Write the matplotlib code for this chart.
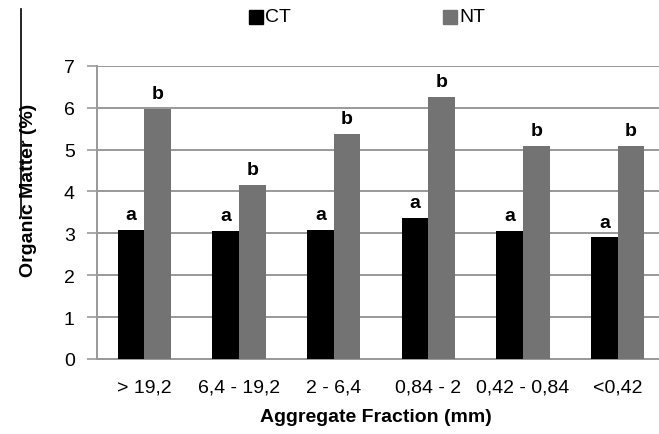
import matplotlib
matplotlib.use("Agg")
import matplotlib.pyplot as plt
from matplotlib.lines import Line2D
from matplotlib.patches import Rectangle
import numpy as np

categories = ["> 19,2", "6,4 - 19,2", "2 - 6,4", "0,84 - 2", "0,42 - 0,84", "<0,42"]
ct_values = [3.09, 3.05, 3.08, 3.37, 3.05, 2.90]
nt_values = [5.97, 4.16, 5.37, 6.26, 5.09, 5.09]
ct_letters = ["a", "a", "a", "a", "a", "a"]
nt_letters = ["b", "b", "b", "b", "b", "b"]
y_ticks = [0, 1, 2, 3, 4, 5, 6, 7]

plt.rcParams['font.family'] = ['Liberation Sans Narrow', 'Liberation Sans', 'DejaVu Sans']

fig = plt.figure(figsize=(6.59, 4.35), dpi=100)
ax = fig.add_axes([97/659, 1-360/435, 568/659, (360-66.7)/435])

x = np.arange(len(categories))
w = 0.28
ct_color = "#000000"
nt_color = "#737373"
ax.bar(x - w/2, ct_values, w, color=ct_color, zorder=3)
ax.bar(x + w/2, nt_values, w, color=nt_color, zorder=3)

for xi, v, t in zip(x - w/2, ct_values, ct_letters):
    ax.annotate(t, (xi, v), xytext=(0, 5), textcoords="offset points",
                ha="center", va="bottom", fontsize=14, fontweight="bold")
for xi, v, t in zip(x + w/2, nt_values, nt_letters):
    ax.annotate(t, (xi, v), xytext=(0, 5), textcoords="offset points",
                ha="center", va="bottom", fontsize=14, fontweight="bold")

ax.set_xlim(-0.5, len(categories) - 0.5)
ax.set_ylim(0, 7)
ax.set_yticks(y_ticks)
ax.set_yticklabels([str(t) for t in y_ticks], fontsize=14)
ax.set_xticks(x)
ax.set_xticklabels(categories, fontsize=14)
ax.tick_params(axis="y", length=7, width=1.2, color="#999999", pad=9)
ax.tick_params(axis="x", length=0, pad=14)
ax.grid(axis="y", color="#999999", linewidth=1.4, zorder=0)
for s in ["top", "right"]:
    ax.spines[s].set_visible(False)
for s in ["left", "bottom"]:
    ax.spines[s].set_color("#999999")
    ax.spines[s].set_linewidth(1.4)

fig.text(376/659, 1-418/435, "Aggregate Fraction (mm)", ha="center", va="center",
         fontsize=14, fontweight="bold")
fig.text(29/659, 1-190/435, "Organic Matter (%)", ha="center", va="center",
         rotation=90, fontsize=14, fontweight="bold")

# legend
fig.add_artist(Rectangle((249/659, 1-25/435), 14/659, 14/435, color=ct_color, transform=fig.transFigure))
fig.text(265/659, 1-18/435, "CT", ha="left", va="center", fontsize=14)
fig.add_artist(Rectangle((443/659, 1-25/435), 14/659, 14/435, color=nt_color, transform=fig.transFigure))
fig.text(459/659, 1-18/435, "NT", ha="left", va="center", fontsize=14)

# stray vertical line at left
fig.add_artist(Line2D([20.5/659, 20.5/659], [1-10/435, 1-218/435], color="black",
                      linewidth=1.2, transform=fig.transFigure))

fig.savefig("out.png", dpi=100)
